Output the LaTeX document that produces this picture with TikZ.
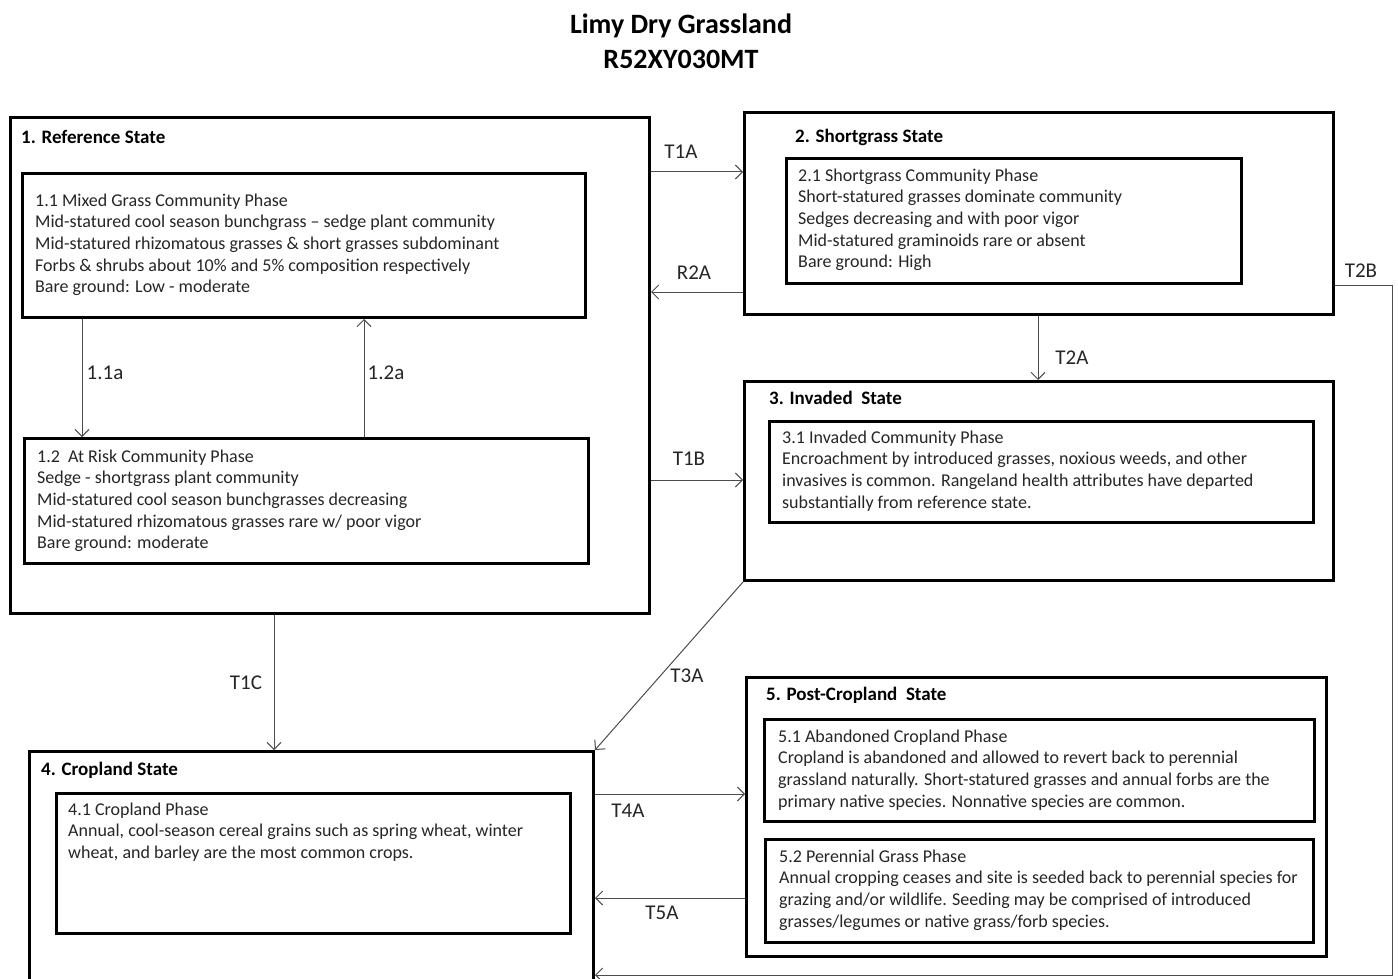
\documentclass[tikz,border=0pt]{standalone}
\usepackage{fontspec}
\setmainfont{Carlito}
\usetikzlibrary{arrows.meta}
\tikzset{
  statebox/.style={draw=black, line width=3pt, anchor=north west, inner sep=0pt, rectangle},
  phasebox/.style={draw=black, line width=3pt, anchor=north west, inner sep=0pt, rectangle},
  statetitle/.style={anchor=base west, inner sep=0pt, font=\fontsize{19}{23}\selectfont\bfseries},
  phasetext/.style={anchor=base west, inner sep=0pt, align=left, text=black!85, font=\fontsize{18}{21.7}\selectfont},
  lbl/.style={inner sep=0pt, text=black!85, font=\fontsize{21}{25}\selectfont},
  conn/.style={draw=black!70, line width=1pt, -{Straight Barb[length=7pt,width=14pt]}},
  connplain/.style={draw=black!70, line width=1pt}
}
\begin{document}
\begin{tikzpicture}[x=1pt,y=-1pt]
\clip (0,0) rectangle (1398,979);
\fill[white] (0,0) rectangle (1398,979);
% title (anchor = baseline of last line)
\node[anchor=base, inner sep=0pt, align=center, font=\fontsize{28}{35}\selectfont\bfseries] (title) at (681,69) {Limy Dry Grassland\\R52XY030MT};
% states
\node[statebox, minimum width=639pt, minimum height=496pt] (s1) at (9,116) {};
\node[statebox, minimum width=589pt, minimum height=202pt] (s2) at (743,111) {};
\node[statebox, minimum width=589pt, minimum height=199pt] (s3) at (743,380) {};
\node[statebox, minimum width=564pt, minimum height=250pt] (s4) at (28,750) {};
\node[statebox, minimum width=580pt, minimum height=279pt] (s5) at (745,676) {};
% state titles
\node[statetitle] (s1t) at (21,143.5) {1. Reference State};
\node[statetitle] (s2t) at (795,142.5) {2. Shortgrass State};
\node[statetitle] (s3t) at (769,404.5) {3. Invaded\ \ State};
\node[statetitle] (s4t) at (41,775.5) {4. Cropland State};
\node[statetitle] (s5t) at (766,700.5) {5. Post-Cropland\ \ State};
% phases
\node[phasebox, minimum width=563pt, minimum height=144pt] (p11) at (21,172) {};
\node[phasebox, minimum width=564pt, minimum height=125pt] (p12) at (23,437) {};
\node[phasebox, minimum width=455pt, minimum height=125pt] (p21) at (785,157) {};
\node[phasebox, minimum width=544pt, minimum height=101pt] (p31) at (768,420) {};
\node[phasebox, minimum width=514pt, minimum height=140pt] (p41) at (55,792) {};
\node[phasebox, minimum width=550pt, minimum height=102pt] (p51) at (763,718) {};
\node[phasebox, minimum width=548pt, minimum height=103pt] (p52) at (764,838) {};
% phase texts (anchor = baseline of last line)
\node[phasetext] (p11t) at (35,292.8) {1.1 Mixed Grass Community Phase\\
Mid-statured cool season bunchgrass \textendash\ sedge plant community\\
Mid-statured rhizomatous grasses \& short grasses subdominant\\
Forbs \& shrubs about 10\% and 5\% composition respectively\\
Bare ground: Low - moderate};
\node[phasetext] (p12t) at (37,548.8) {1.2\ \ At Risk Community Phase\\
Sedge - shortgrass plant community\\
Mid-statured cool season bunchgrasses decreasing\\
Mid-statured rhizomatous grasses rare w/ poor vigor\\
Bare ground: moderate};
\node[phasetext] (p21t) at (798,267.8) {2.1 Shortgrass Community Phase\\
Short-statured grasses dominate community\\
Sedges decreasing and with poor vigor\\
Mid-statured graminoids rare or absent\\
Bare ground: High};
\node[phasetext] (p31t) at (782,508.1) {3.1 Invaded Community Phase\\
Encroachment by introduced grasses, noxious weeds, and other\\
invasives is common. Rangeland health attributes have departed\\
substantially from reference state.};
\node[phasetext] (p41t) at (68,858.4) {4.1 Cropland Phase\\
Annual, cool-season cereal grains such as spring wheat, winter\\
wheat, and barley are the most common crops.};
\node[phasetext] (p51t) at (778,807.1) {5.1 Abandoned Cropland Phase\\
Cropland is abandoned and allowed to revert back to perennial\\
grassland naturally. Short-statured grasses and annual forbs are the\\
primary native species. Nonnative species are common.};
\node[phasetext] (p52t) at (779,927.1) {5.2 Perennial Grass Phase\\
Annual cropping ceases and site is seeded back to perennial species for\\
grazing and/or wildlife. Seeding may be comprised of introduced\\
grasses/legumes or native grass/forb species.};
% connectors
\draw[conn] (p11.south -| 82,0) -- (p12.north -| 82,0);
\draw[conn] (p12.north -| 364,0) -- (p11.south -| 364,0);
\draw[conn] (s1.east |- 0,172) -- (s2.west |- 0,172);
\draw[conn] (s2.west |- 0,292) -- (s1.east |- 0,292);
\draw[conn] (s2.south -| 1038,0) -- (s3.north -| 1038,0);
\draw[conn] (s1.east |- 0,480) -- (s3.west |- 0,480);
\draw[conn] (s1.south -| 274,0) -- (s4.north -| 274,0);
\draw[conn] (s3.south west) -- (s4.north east);
\draw[conn] (s4.east |- 0,794) -- (s5.west |- 0,794);
\draw[conn] (s5.west |- 0,898) -- (s4.east |- 0,898);
\coordinate (b1) at (1392,285);
\coordinate (b2) at (1392,975);
\draw[conn] (s2.east |- b1) -- (b1) -- (b2) -- (s4.east |- b2);
% labels
\node[lbl] (l11a) at (105,373) {1.1a};
\node[lbl] (l12a) at (386,373) {1.2a};
\node[lbl] (lT1A) at (681,152) {T1A};
\node[lbl] (lR2A) at (694,273) {R2A};
\node[lbl] (lT2B) at (1361,271) {T2B};
\node[lbl] (lT2A) at (1072,358) {T2A};
\node[lbl] (lT1B) at (689,459) {T1B};
\node[lbl] (lT1C) at (246,683) {T1C};
\node[lbl] (lT3A) at (687,676) {T3A};
\node[lbl] (lT4A) at (628,811) {T4A};
\node[lbl] (lT5A) at (662,913) {T5A};
\end{tikzpicture}
\end{document}
